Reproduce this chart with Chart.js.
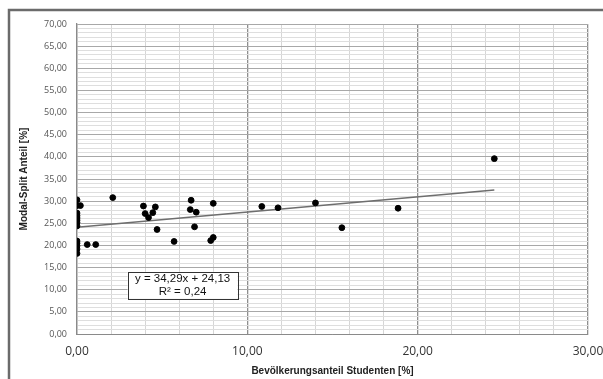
<!DOCTYPE html>
<html>
<head>
<meta charset="utf-8">
<script src="https://cdn.jsdelivr.net/npm/chart.js@4.4.1/dist/chart.umd.min.js"></script>
<style>
  html, body { margin: 0; padding: 0; background: #fff; }
  #wrap { width: 603px; height: 379px; position: relative; }
</style>
</head>
<body>
<div id="wrap"><canvas id="chart"></canvas></div>
<script>
// Bevölkerungsanteil Studenten [%] vs Modal-Split Anteil [%]
const studentShare = [0, 0, 0.2, 0, 0, 0, 0, 0, 0, 0, 0, 0, 0, 0,
  0.6, 1.1, 2.1, 3.9, 4.0, 4.2, 4.45, 4.6, 4.7, 5.7, 6.7, 6.65, 7.0, 6.9,
  8.0, 7.85, 8.0, 10.85, 11.8, 14.0, 15.55, 18.85, 24.5];
const modalSplit = [30.3, 29.0, 29.0, 27.3, 26.7, 26.2, 25.7, 25.2, 24.4, 21.0, 20.5, 19.9, 19.2, 18.2,
  20.2, 20.2, 30.8, 28.9, 27.2, 26.3, 27.4, 28.7, 23.6, 20.9, 30.2, 28.1, 27.5, 24.2,
  29.5, 21.1, 21.8, 28.8, 28.5, 29.6, 24.0, 28.4, 39.6];

// trend line ends as seen in the picture
const trendX = [0, 24.5];
const trendY = [24.13, 32.53];
const trendText = ["y = 34,29x + 24,13", "R² = 0,24"];

const xTitle = "Bevölkerungsanteil Studenten [%]";
const yTitle = "Modal-Split Anteil [%]";

const fmt = (v) => v.toFixed(2).replace(".", ",");

const points = studentShare.map((x, i) => ({ x: x, y: modalSplit[i] }));
const trend = trendX.map((x, i) => ({ x: x, y: trendY[i] }));

// white background + grey outer frame
const framePlugin = {
  id: "frame",
  beforeDraw(chart) {
    const c = chart.ctx;
    c.save();
    c.fillStyle = "#fff";
    c.fillRect(0, 0, chart.width, chart.height);
    c.strokeStyle = "#6b6b6b";
    c.lineWidth = 2.5;
    c.strokeRect(9, 10, chart.width + 20, chart.height + 20);
    c.restore();
  }
};

// equation box, placed in data units
const eqPlugin = {
  id: "eqbox",
  afterDatasetsDraw(chart) {
    const c = chart.ctx;
    const cx = chart.scales.x.getPixelForValue(6.2);
    const cy = chart.scales.y.getPixelForValue(11);
    const w = 110, h = 27;
    c.save();
    c.fillStyle = "#fff";
    c.fillRect(cx - w / 2, cy - h / 2, w, h);
    c.strokeStyle = "#333";
    c.lineWidth = 1;
    c.strokeRect(Math.round(cx - w / 2) + 0.5, Math.round(cy - h / 2) + 0.5, w, h);
    c.fillStyle = "#111";
    c.font = "11.5px 'Liberation Sans', Arial, sans-serif";
    c.textAlign = "center";
    c.textBaseline = "middle";
    c.fillText(trendText[0], cx, cy - 6);
    c.fillText(trendText[1], cx, cy + 7);
    c.restore();
  }
};

new Chart(document.getElementById("chart"), {
  type: "scatter",
  data: {
    datasets: [
      {
        label: "Daten",
        data: points,
        backgroundColor: "#000",
        borderColor: "#000",
        pointRadius: 2.9,
        pointHoverRadius: 2.9
      },
      {
        type: "line",
        label: "Trend",
        data: trend,
        borderColor: "#6e6e6e",
        borderWidth: 1.5,
        pointRadius: 0,
        fill: false
      }
    ]
  },
  options: {
    responsive: true,
    maintainAspectRatio: false,
    animation: false,
    layout: { padding: { left: 0, top: 24, right: 15, bottom: 0 } },
    plugins: { legend: { display: false }, tooltip: { enabled: false } },
    scales: {
      x: {
        type: "linear",
        min: 0,
        max: 30,
        afterFit(scale) {
          scale.height = 45;
          scale.paddingLeft = 0;
          scale.paddingRight = 0;
        },
        ticks: {
          stepSize: 2,
          autoSkip: false,
          maxRotation: 0,
          padding: 10,
          color: "#333",
          font: { family: "'Open Sans', sans-serif", size: 12 },
          callback: (v) => (v % 10 === 0 ? fmt(v) : "")
        },
        grid: {
          drawTicks: false,
          color: (ctx) => (ctx.tick && ctx.tick.value % 10 === 0 ? "#8e8e8e" : "#d6d6d6"),
          lineWidth: (ctx) => (ctx.tick && ctx.tick.value % 10 === 0 ? 1.3 : 1)
        },
        border: { color: "#8a8a8a", width: 1 },
        title: {
          display: true,
          text: xTitle,
          color: "#222",
          padding: { top: 0, bottom: 2 },
          font: { family: "'Liberation Sans', Arial, sans-serif", size: 10, weight: "bold" }
        }
      },
      y: {
        min: 0,
        max: 70,
        z: -1,
        afterFit(scale) {
          scale.width = 77;
          scale.paddingTop = 0;
          scale.paddingBottom = 0;
        },
        ticks: {
          stepSize: 1,
          autoSkip: false,
          padding: 10,
          color: "#555",
          font: { family: "'Open Sans', sans-serif", size: 9 },
          callback: (v) => (v % 5 === 0 ? fmt(v) : "")
        },
        grid: {
          drawTicks: false,
          color: (ctx) => (ctx.tick && ctx.tick.value % 5 === 0 ? "#a8a8a8" : "#dedede"),
          lineWidth: 1
        },
        border: { color: "#8a8a8a", width: 1.3 },
        title: {
          display: true,
          text: yTitle,
          color: "#222",
          padding: { top: 18, bottom: 0 },
          font: { family: "'Liberation Sans', Arial, sans-serif", size: 10, weight: "bold" }
        }
      }
    }
  },
  plugins: [framePlugin, eqPlugin]
});
</script>
</body>
</html>
